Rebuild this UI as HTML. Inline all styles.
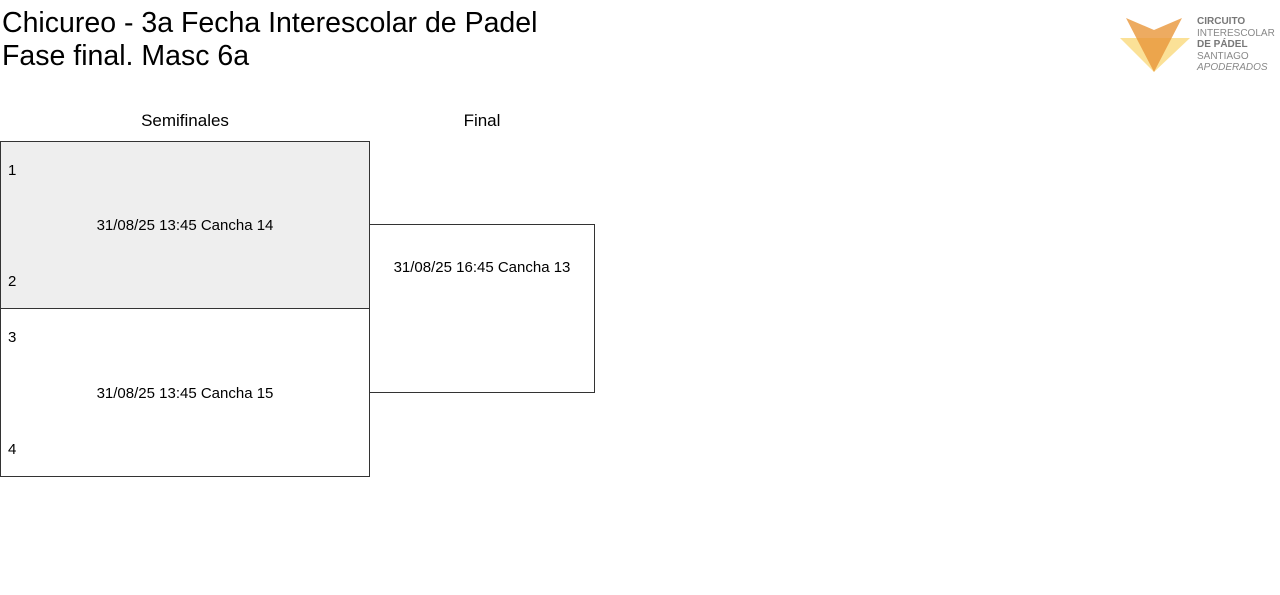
<!DOCTYPE html>
<html><head><meta charset="utf-8"><style>
body{margin:0;width:1280px;height:595px;background:#fff;font-family:"Liberation Sans",sans-serif;color:#000;position:relative;overflow:hidden}
.a{position:absolute;white-space:nowrap}
.t{font-size:28.5px;left:2px;line-height:33px}
.box{position:absolute;border:1px solid #333;box-sizing:border-box}
.s{font-size:15px}
</style></head><body>
<div class="a t" style="top:7px">Chicureo - 3a Fecha Interescolar de Padel</div>
<div class="a t" style="top:40px">Fase final. Masc 6a</div>
<svg class="a" style="left:1118px;top:16px" width="74" height="58" viewBox="0 0 74 58">
<polygon points="2,22 72,22 36,56" fill="#f9d46b" opacity="0.7"/>
<polygon points="8,2 36,14 64,2 36,56" fill="#e8963a" opacity="0.8"/>
</svg>
<div class="a" style="left:1197px;top:16px;font-size:10px;line-height:11.6px;color:#888">
<b style="color:#777">CIRCUITO</b><br>INTERESCOLAR<br><b style="color:#777">DE PÁDEL</b><br>SANTIAGO<br><i>APODERADOS</i></div>
<div class="a s" style="left:0;width:370px;text-align:center;top:111px;font-size:17px">Semifinales</div>
<div class="a s" style="left:369px;width:226px;text-align:center;top:111px;font-size:17px">Final</div>
<div class="box" style="left:0;top:141px;width:370px;height:168px;background:#eee"></div>
<div class="box" style="left:0;top:308px;width:370px;height:169px"></div>
<div class="box" style="left:369px;top:224px;width:226px;height:169px"></div>
<div class="a s" style="left:8px;top:162px">1</div>
<div class="a s" style="left:8px;top:273px">2</div>
<div class="a s" style="left:8px;top:329px">3</div>
<div class="a s" style="left:8px;top:441px">4</div>
<div class="a s" style="left:0;width:370px;text-align:center;top:217px">31/08/25 13:45 Cancha 14</div>
<div class="a s" style="left:0;width:370px;text-align:center;top:385px">31/08/25 13:45 Cancha 15</div>
<div class="a s" style="left:369px;width:226px;text-align:center;top:259px">31/08/25 16:45 Cancha 13</div>
</body></html>
